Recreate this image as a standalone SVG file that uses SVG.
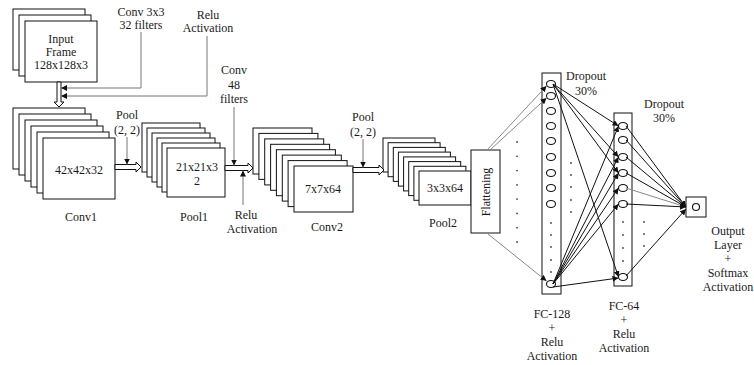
<svg xmlns="http://www.w3.org/2000/svg" width="754" height="365" viewBox="0 0 754 365">
<defs>
<style>
text{font-family:"Liberation Serif","Times New Roman",serif;font-size:12px;fill:#1a1a1a;text-anchor:middle}
.r{fill:#fff;stroke:#111;stroke-width:1}
.ba{fill:#fff;stroke:#111;stroke-width:1}
.ln{fill:none;stroke:#777;stroke-width:1}
.fc{fill:none;stroke:#111;stroke-width:1}
.fg{fill:none;stroke:#888;stroke-width:1}
.n{fill:#fff;stroke:#111;stroke-width:1.1}
.d{fill:#444}
</style>
<marker id="ah" viewBox="0 0 6 6" refX="6" refY="3" markerWidth="6" markerHeight="6" markerUnits="userSpaceOnUse" orient="auto"><path d="M0,0 L6,3 L0,6 z" fill="#111"/></marker>
</defs>
<rect width="754" height="365" fill="#fff"/>

<g id="input">
<rect class="r" x="13" y="9" width="72" height="61"/>
<rect class="r" x="19" y="15" width="72" height="61"/>
<rect class="r" x="25" y="21" width="72" height="61"/>
<text x="61" y="43">Input</text>
<text x="61" y="56">Frame</text>
<text x="61" y="69">128x128x3</text>
</g>

<g id="conv1">
<rect class="r" x="13" y="108" width="72" height="61"/>
<rect class="r" x="19" y="114" width="72" height="61"/>
<rect class="r" x="25" y="120" width="72" height="61"/>
<rect class="r" x="31" y="126" width="72" height="61"/>
<rect class="r" x="37" y="132" width="72" height="61"/>
<rect class="r" x="43" y="138" width="72" height="61"/>
<text x="79" y="174">42x42x32</text>
<text x="81" y="221">Conv1</text>
</g>

<g id="pool1">
<rect class="r" x="142" y="123" width="58" height="49"/>
<rect class="r" x="147" y="128" width="58" height="49"/>
<rect class="r" x="152" y="133" width="58" height="49"/>
<rect class="r" x="157" y="138" width="58" height="49"/>
<rect class="r" x="162" y="143" width="58" height="49"/>
<rect class="r" x="167" y="148" width="58" height="49"/>
<text x="197" y="171">21x21x3</text>
<text x="197" y="185">2</text>
<text x="194" y="221">Pool1</text>
</g>

<g id="conv2">
<rect class="r" x="253" y="128" width="59" height="46"/>
<rect class="r" x="258.9" y="133.4" width="59" height="46"/>
<rect class="r" x="264.7" y="138.9" width="59" height="46"/>
<rect class="r" x="270.6" y="144.3" width="59" height="46"/>
<rect class="r" x="276.4" y="149.7" width="59" height="46"/>
<rect class="r" x="282.3" y="155.1" width="59" height="46"/>
<rect class="r" x="288.1" y="160.6" width="59" height="46"/>
<rect class="r" x="294" y="166" width="59" height="46"/>
<text x="323" y="193">7x7x64</text>
<text x="327" y="231">Conv2</text>
</g>

<g id="pool2">
<rect class="r" x="383" y="138" width="52" height="34"/>
<rect class="r" x="388.1" y="142.7" width="52" height="34"/>
<rect class="r" x="393.3" y="147.4" width="52" height="34"/>
<rect class="r" x="398.4" y="152.1" width="52" height="34"/>
<rect class="r" x="403.6" y="156.9" width="52" height="34"/>
<rect class="r" x="408.7" y="161.6" width="52" height="34"/>
<rect class="r" x="413.9" y="166.3" width="52" height="34"/>
<rect class="r" x="419" y="171" width="52" height="34"/>
<text x="445" y="192">3x3x64</text>
<text x="443" y="227">Pool2</text>
</g>

<g id="flattening">
<rect class="r" x="471" y="150" width="29" height="83"/>
<text transform="translate(490,192) rotate(-90)">Flattening</text>
</g>

<g id="fc128">
<rect class="r" x="542" y="73" width="19" height="221"/>
<ellipse class="n" cx="551" cy="84" rx="4.5" ry="3.5"/>
<ellipse class="n" cx="551" cy="96" rx="4.5" ry="3.5"/>
<ellipse class="n" cx="551" cy="111" rx="4.5" ry="3.5"/>
<ellipse class="n" cx="551" cy="126" rx="4.5" ry="3.5"/>
<ellipse class="n" cx="551" cy="141" rx="4.5" ry="3.5"/>
<ellipse class="n" cx="551" cy="157" rx="4.5" ry="3.5"/>
<ellipse class="n" cx="551" cy="173" rx="4.5" ry="3.5"/>
<ellipse class="n" cx="551" cy="188" rx="4.5" ry="3.5"/>
<ellipse class="n" cx="551" cy="204" rx="4.5" ry="3.5"/>
<ellipse class="n" cx="551" cy="284" rx="4.5" ry="3.5"/>
<circle class="d" cx="551" cy="223" r="0.9"/>
<circle class="d" cx="551" cy="235" r="0.9"/>
<circle class="d" cx="551" cy="247" r="0.9"/>
<circle class="d" cx="551" cy="260" r="0.9"/>
<circle class="d" cx="551" cy="272" r="0.9"/>
<text x="586" y="80">Dropout</text>
<text x="586" y="95">30%</text>
<text x="552" y="318">FC-128</text>
<text x="552" y="332">+</text>
<text x="552" y="346">Relu</text>
<text x="552" y="360">Activation</text>
</g>

<g id="fc64">
<rect class="r" x="614" y="113" width="18" height="173"/>
<ellipse class="n" cx="623" cy="126" rx="4.5" ry="3.5"/>
<ellipse class="n" cx="623" cy="140" rx="4.5" ry="3.5"/>
<ellipse class="n" cx="623" cy="157" rx="4.5" ry="3.5"/>
<ellipse class="n" cx="623" cy="173" rx="4.5" ry="3.5"/>
<ellipse class="n" cx="623" cy="188" rx="4.5" ry="3.5"/>
<ellipse class="n" cx="623" cy="204" rx="4.5" ry="3.5"/>
<ellipse class="n" cx="623" cy="277" rx="4.5" ry="3.5"/>
<circle class="d" cx="623" cy="222" r="0.9"/>
<circle class="d" cx="623" cy="235" r="0.9"/>
<circle class="d" cx="623" cy="248" r="0.9"/>
<circle class="d" cx="623" cy="261" r="0.9"/>
<text x="664" y="108">Dropout</text>
<text x="664" y="122">30%</text>
<text x="624" y="310">FC-64</text>
<text x="624" y="324">+</text>
<text x="624" y="338">Relu</text>
<text x="624" y="352">Activation</text>
</g>

<g id="output">
<rect class="r" x="686" y="197" width="20" height="20"/>
<circle class="n" cx="696" cy="207" r="3.5"/>
<text x="728" y="235">Output</text>
<text x="728" y="249">Layer</text>
<text x="728" y="263">+</text>
<text x="728" y="277">Softmax</text>
<text x="728" y="291">Activation</text>
</g>

<g id="labels">
<text x="141" y="16">Conv 3x3</text>
<text x="141" y="29">32 filters</text>
<text x="208" y="19">Relu</text>
<text x="208" y="32">Activation</text>
<text x="234" y="74">Conv</text>
<text x="234" y="89">48</text>
<text x="234" y="103">filters</text>
<text x="127" y="119">Pool</text>
<text x="127" y="134">(2, 2)</text>
<text x="246" y="219">Relu</text>
<text x="252" y="233">Activation</text>
<text x="363" y="121">Pool</text>
<text x="363" y="136">(2, 2)</text>
<g fill="#444">
<circle cx="517" cy="142" r="0.9"/><circle cx="517" cy="156.3" r="0.9"/><circle cx="517" cy="170.6" r="0.9"/><circle cx="517" cy="184.9" r="0.9"/><circle cx="517" cy="199.1" r="0.9"/><circle cx="517" cy="213.4" r="0.9"/><circle cx="517" cy="227.7" r="0.9"/><circle cx="517" cy="242" r="0.9"/>
<circle cx="571" cy="163" r="0.9"/><circle cx="571" cy="175" r="0.9"/><circle cx="571" cy="187" r="0.9"/><circle cx="571" cy="200" r="0.9"/><circle cx="571" cy="212" r="0.9"/>
<circle cx="644" cy="222" r="0.9"/><circle cx="644" cy="234" r="0.9"/><circle cx="644" cy="246" r="0.9"/>
</g>
</g>

<g id="connectors">
<polygon class="ba" points="57,82 57,102 54,102 59,107 64,102 61,102 61,82"/>
<polygon class="ba" points="115,164.5 136,164.5 136,162 141,167 136,172 136,169.5 115,169.5"/>
<polygon class="ba" points="225,165.5 248,165.5 248,163 253,168 248,173 248,170.5 225,170.5"/>
<polygon class="ba" points="353,167.5 379,167.5 379,165 384,170 379,175 379,172.5 353,172.5"/>
<polyline class="ln" points="141,32 141,88 61,88" marker-end="url(#ah)"/>
<polyline class="ln" points="207,36 207,96 61,96" marker-end="url(#ah)"/>
<line class="ln" x1="127" y1="137" x2="127" y2="164.5" marker-end="url(#ah)"/>
<line class="ln" x1="234" y1="107" x2="234" y2="165.5" marker-end="url(#ah)"/>
<line class="ln" x1="243" y1="205" x2="243" y2="170.5" marker-end="url(#ah)"/>
<line class="ln" x1="363" y1="139" x2="363" y2="167.5" marker-end="url(#ah)"/>

<line class="fg" x1="487" y1="150" x2="546.5" y2="86" marker-end="url(#ah)"/>
<line class="fg" x1="490" y1="150" x2="546.5" y2="98" marker-end="url(#ah)"/>
<line class="fg" x1="488" y1="234" x2="546.5" y2="281" marker-end="url(#ah)"/>

<line class="fc" x1="553" y1="84" x2="618.5" y2="126" marker-end="url(#ah)"/>
<line class="fc" x1="553" y1="84" x2="618.5" y2="157" marker-end="url(#ah)"/>
<line class="fc" x1="553" y1="84" x2="618.5" y2="173" marker-end="url(#ah)"/>
<line class="fc" x1="553" y1="84" x2="618.5" y2="277" marker-end="url(#ah)"/>
<line class="fc" x1="553" y1="284" x2="618.5" y2="126" marker-end="url(#ah)"/>
<line class="fc" x1="553" y1="284" x2="618.5" y2="157" marker-end="url(#ah)"/>
<line class="fc" x1="553" y1="284" x2="618.5" y2="173" marker-end="url(#ah)"/>
<line class="fc" x1="553" y1="284" x2="618.5" y2="188" marker-end="url(#ah)"/>
<line class="fc" x1="553" y1="284" x2="618.5" y2="204" marker-end="url(#ah)"/>
<line class="fc" x1="553" y1="287" x2="618.5" y2="278" marker-end="url(#ah)"/>

<line class="fc" x1="626" y1="126" x2="686" y2="207" marker-end="url(#ah)"/>
<line class="fc" x1="626" y1="140" x2="686" y2="207" marker-end="url(#ah)"/>
<line class="fc" x1="626" y1="157" x2="686" y2="207" marker-end="url(#ah)"/>
<line class="fc" x1="626" y1="173" x2="686" y2="207" marker-end="url(#ah)"/>
<line class="fg" x1="626" y1="188" x2="686" y2="207" marker-end="url(#ah)"/>
<line class="fc" x1="626" y1="204" x2="686" y2="207" marker-end="url(#ah)"/>
<line class="fc" x1="626" y1="276" x2="686" y2="209" marker-end="url(#ah)"/>
</g>
</svg>
